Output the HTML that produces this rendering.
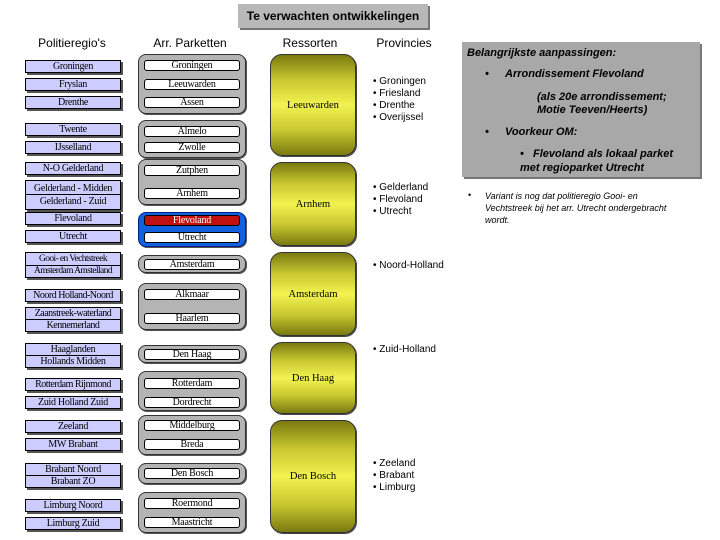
<!DOCTYPE html>
<html><head><meta charset="utf-8"><style>
body{margin:0;width:720px;height:540px;background:#fff;position:relative;overflow:hidden;font-family:"Liberation Serif",serif;}
div{position:absolute;box-sizing:border-box;}
.h{font-family:"Liberation Sans",sans-serif;font-size:12px;top:36px;text-align:center;width:120px;}
.l{left:25px;width:96px;background:#ccccff;border:1px solid #000;box-shadow:2px 2px 0 #555;font-size:10px;letter-spacing:-0.3px;text-align:center;line-height:11px;white-space:nowrap;overflow:hidden;}
.l .s{position:static;border-top:1px solid #000;}
.g{left:138px;width:108px;background:#b4b4b4;border:1px solid #333;border-radius:8px;box-shadow:1px 1px 0 #555;}
.w{left:144px;width:96px;height:11px;background:#fff;border:1px solid #000;border-radius:3px;font-size:10px;letter-spacing:-0.2px;text-align:center;line-height:10px;}
.r{left:270px;width:86px;border:1px solid #333;border-radius:12px;background:linear-gradient(#7a7a10,#c8c830 25%,#f2f250 50%,#c8c830 75%,#7a7a10);font-size:10.5px;display:flex;align-items:center;justify-content:center;box-shadow:1px 1px 0 #444;}
.p{left:373px;font-family:"Liberation Sans",sans-serif;font-size:10px;line-height:12px;}
.b{font-family:"Liberation Sans",sans-serif;font-weight:bold;font-style:italic;font-size:11px;line-height:13px;white-space:nowrap;}
</style></head><body>
<div style="left:238px;top:4px;width:190px;height:24px;background:#b8b8b8;box-shadow:2px 2px 0 #777;font-family:'Liberation Sans',sans-serif;font-weight:bold;font-size:12px;line-height:24px;text-align:center;">Te verwachten ontwikkelingen</div>
<div class="h" style="left:12px">Politieregio's</div>
<div class="h" style="left:130px">Arr. Parketten</div>
<div class="h" style="left:250px">Ressorten</div>
<div class="h" style="left:344px">Provincies</div>

<div class="l" style="top:60px;height:13px">Groningen</div>
<div class="l" style="top:78px;height:13px">Fryslan</div>
<div class="l" style="top:96px;height:13px">Drenthe</div>
<div class="l" style="top:123px;height:13px">Twente</div>
<div class="l" style="top:141px;height:13px">IJsselland</div>
<div class="l" style="top:162px;height:13px">N-O Gelderland</div>
<div class="l" style="top:180px;height:30px;padding-top:2px">Gelderland - Midden<div class="s" style="padding-top:1px">Gelderland - Zuid</div></div>
<div class="l" style="top:212px;height:13px">Flevoland</div>
<div class="l" style="top:230px;height:13px">Utrecht</div>
<div class="l" style="top:252px;height:26px;padding-top:1px;letter-spacing:-0.6px;font-size:9.5px">Gooi- en Vechtstreek<div class="s">Amsterdam Amstelland</div></div>
<div class="l" style="top:289px;height:13px;letter-spacing:-0.5px">Noord Holland-Noord</div>
<div class="l" style="top:307px;height:25px;letter-spacing:-0.5px">Zaanstreek-waterland<div class="s">Kennemerland</div></div>
<div class="l" style="top:343px;height:25px">Haaglanden<div class="s">Hollands Midden</div></div>
<div class="l" style="top:378px;height:13px;letter-spacing:-0.5px">Rotterdam Rijnmond</div>
<div class="l" style="top:396px;height:13px">Zuid Holland Zuid</div>
<div class="l" style="top:420px;height:13px">Zeeland</div>
<div class="l" style="top:438px;height:13px">MW Brabant</div>
<div class="l" style="top:463px;height:25px">Brabant Noord<div class="s">Brabant ZO</div></div>
<div class="l" style="top:499px;height:13px">Limburg Noord</div>
<div class="l" style="top:517px;height:13px">Limburg Zuid</div>

<div class="g" style="top:54px;height:60px"></div>
<div class="g" style="top:120px;height:38px"></div>
<div class="g" style="top:159px;height:46px"></div>
<div class="g" style="top:212px;height:35px;background:#1060e0;border-color:#002080"></div>
<div class="g" style="top:255px;height:18px"></div>
<div class="g" style="top:283px;height:47px"></div>
<div class="g" style="top:345px;height:18px"></div>
<div class="g" style="top:371px;height:40px"></div>
<div class="g" style="top:415px;height:40px"></div>
<div class="g" style="top:463px;height:21px"></div>
<div class="g" style="top:492px;height:41px"></div>

<div class="w" style="top:60px">Groningen</div>
<div class="w" style="top:79px">Leeuwarden</div>
<div class="w" style="top:97px">Assen</div>
<div class="w" style="top:126px">Almelo</div>
<div class="w" style="top:142px">Zwolle</div>
<div class="w" style="top:165px">Zutphen</div>
<div class="w" style="top:188px">Arnhem</div>
<div class="w" style="top:215px;background:#c01010;color:#fff">Flevoland</div>
<div class="w" style="top:232px">Utrecht</div>
<div class="w" style="top:259px">Amsterdam</div>
<div class="w" style="top:289px">Alkmaar</div>
<div class="w" style="top:313px">Haarlem</div>
<div class="w" style="top:349px">Den Haag</div>
<div class="w" style="top:378px">Rotterdam</div>
<div class="w" style="top:397px">Dordrecht</div>
<div class="w" style="top:420px">Middelburg</div>
<div class="w" style="top:439px">Breda</div>
<div class="w" style="top:468px">Den Bosch</div>
<div class="w" style="top:498px">Roermond</div>
<div class="w" style="top:517px">Maastricht</div>

<div class="r" style="top:54px;height:102px">Leeuwarden</div>
<div class="r" style="top:162px;height:84px">Arnhem</div>
<div class="r" style="top:252px;height:84px">Amsterdam</div>
<div class="r" style="top:342px;height:72px">Den Haag</div>
<div class="r" style="top:420px;height:113px">Den Bosch</div>

<div class="p" style="top:76px">• Groningen<br>• Friesland<br>• Drenthe<br>• Overijssel</div>
<div class="p" style="top:182px">• Gelderland<br>• Flevoland<br>• Utrecht</div>
<div class="p" style="top:260px">• Noord-Holland</div>
<div class="p" style="top:344px">• Zuid-Holland</div>
<div class="p" style="top:458px">• Zeeland<br>• Brabant<br>• Limburg</div>

<div style="left:462px;top:42px;width:238px;height:135px;background:#a8a8a8;box-shadow:2px 2px 0 #777;">
<div class="b" style="left:5px;top:5px">Belangrijkste aanpassingen:</div>
<div class="b" style="left:23px;top:26px">•</div><div class="b" style="left:43px;top:26px">Arrondissement Flevoland</div>
<div class="b" style="left:75px;top:49px">(als 20e arrondissement;<br>Motie Teeven/Heerts)</div>
<div class="b" style="left:23px;top:84px">•</div><div class="b" style="left:43px;top:84px">Voorkeur OM:</div>
<div class="b" style="left:58px;top:106px">•&nbsp;&nbsp;&nbsp;Flevoland als lokaal parket</div>
<div class="b" style="left:58px;top:120px">met regioparket Utrecht</div>
</div>
<div style="left:468px;top:190px;font-family:'Liberation Sans',sans-serif;font-size:9px">•</div>
<div style="left:485px;top:190px;width:200px;font-family:'Liberation Sans',sans-serif;font-style:italic;font-size:9px;line-height:12px">Variant is nog dat politieregio Gooi- en Vechtstreek bij het arr. Utrecht ondergebracht wordt.</div>
</body></html>
